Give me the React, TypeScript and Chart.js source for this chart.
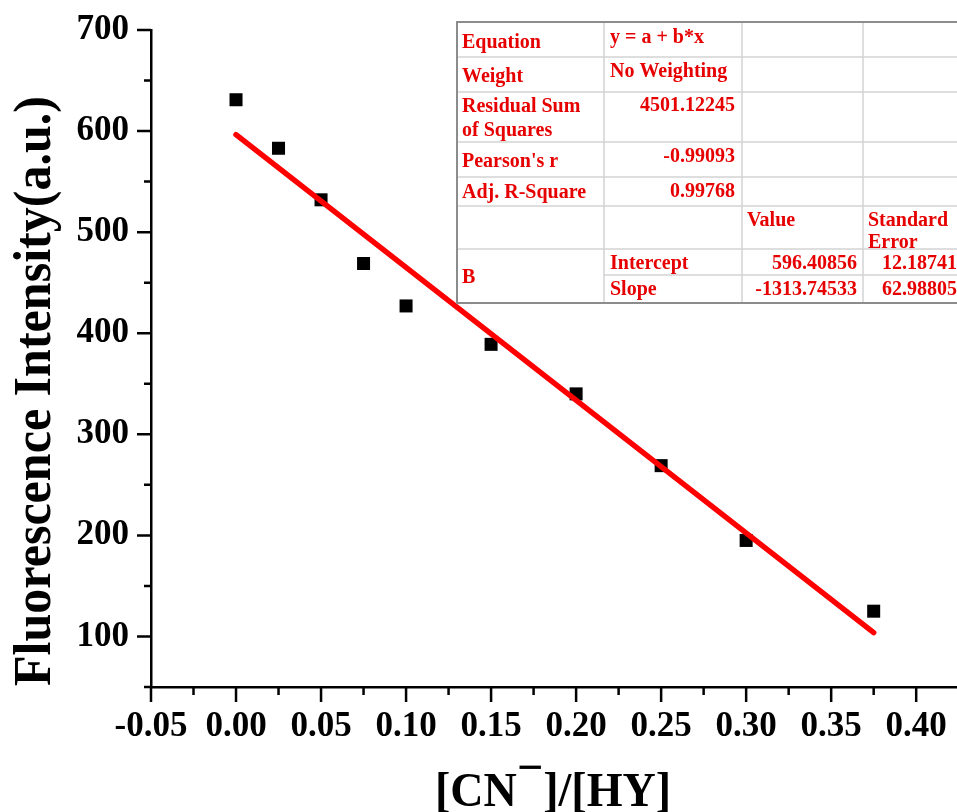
import React, { useEffect, useRef } from "react";
import { Chart, registerables } from "chart.js";
Chart.register(...registerables);

// ---- data ----
const ratio = [0, 0.025, 0.05, 0.075, 0.1, 0.15, 0.2, 0.25, 0.3, 0.375];
const intensity = [631, 583, 532, 469, 427, 389, 340, 269, 195, 125];
const fitX = [0, 0.375];
const fitY = [596.41, 103.75];

const xMajorTicks = [-0.05, 0, 0.05, 0.1, 0.15, 0.2, 0.25, 0.3, 0.35, 0.4];
const xMinorTicks = [-0.025, 0.025, 0.075, 0.125, 0.175, 0.225, 0.275, 0.325, 0.375];
const yMajorTicks = [100, 200, 300, 400, 500, 600, 700];
const yMinorTicks = [50, 150, 250, 350, 450, 550, 650];

const yTitle = "Fluorescence Intensity(a.u.)";
const xTitleParts = ["[CN", "\u2212", "]/[HY]"];

const tableLabels = ["Equation", "Weight", "Residual Sum|of Squares", "Pearson's r", "Adj. R-Square"];
const tableValues = ["y = a + b*x", "No Weighting", "4501.12245", "-0.99093", "0.99768"];
const paramHeaders = ["Value", "Standard|Error"];
const paramGroup = "B";
const paramNames = ["Intercept", "Slope"];
const paramValues = ["596.40856", "-1313.74533"];
const paramErrors = ["12.18741", "62.98805"];

const FONT = '"Liberation Serif", "Times New Roman", serif';
const RED = "#e60000";

const decorPlugin = {
  id: "decor",
  afterDraw(chart: any) {
    const ctx: CanvasRenderingContext2D = chart.ctx;
    const xs = chart.scales.x;
    const ys = chart.scales.y;
    const area = chart.chartArea;
    ctx.save();
    // tick marks
    ctx.strokeStyle = "#000";
    ctx.lineWidth = 2.5;
    ctx.beginPath();
    for (const v of yMajorTicks) {
      const p = ys.getPixelForValue(v);
      ctx.moveTo(area.left - 14, p);
      ctx.lineTo(area.left, p);
    }
    for (const v of yMinorTicks) {
      const p = ys.getPixelForValue(v);
      ctx.moveTo(area.left - 7, p);
      ctx.lineTo(area.left, p);
    }
    for (const v of xMajorTicks) {
      const p = xs.getPixelForValue(v);
      ctx.moveTo(p, area.bottom);
      ctx.lineTo(p, area.bottom + 15);
    }
    for (const v of xMinorTicks) {
      const p = xs.getPixelForValue(v);
      ctx.moveTo(p, area.bottom);
      ctx.lineTo(p, area.bottom + 8);
    }
    ctx.stroke();

    // y title
    ctx.fillStyle = "#000";
    ctx.font = `bold 53px ${FONT}`;
    ctx.textAlign = "center";
    ctx.textBaseline = "alphabetic";
    const w = ctx.measureText(yTitle).width;
    ctx.save();
    ctx.translate(50, 391);
    ctx.rotate(-Math.PI / 2);
    ctx.scale(590 / w, 1);
    ctx.fillText(yTitle, 0, 0);
    ctx.restore();

    // x title
    ctx.save();
    ctx.font = `bold 48px ${FONT}`;
    ctx.textAlign = "left";
    ctx.translate(435, 806);
    ctx.scale(0.96, 1);
    let x = 0;
    ctx.fillText(xTitleParts[0], x, 0);
    x += ctx.measureText(xTitleParts[0]).width;
    ctx.fillText(xTitleParts[1], x, -23);
    x += ctx.measureText(xTitleParts[1]).width;
    ctx.fillText(xTitleParts[2], x, 0);
    ctx.restore();

    // table
    const colX = [457, 604, 742, 863, 1000];
    const rowY = [22, 57, 92, 142, 177, 206, 249, 275, 303];
    ctx.fillStyle = "#fff";
    ctx.fillRect(colX[0], rowY[0], 957 - colX[0], rowY[8] - rowY[0]);
    ctx.strokeStyle = "#d4d4d4";
    ctx.lineWidth = 1.5;
    ctx.beginPath();
    for (let i = 1; i < 7; i++) {
      ctx.moveTo(colX[0], rowY[i]);
      ctx.lineTo(957, rowY[i]);
    }
    ctx.moveTo(colX[1], rowY[7]);
    ctx.lineTo(957, rowY[7]);
    for (let i = 1; i < 4; i++) {
      ctx.moveTo(colX[i], rowY[0]);
      ctx.lineTo(colX[i], rowY[8]);
    }
    ctx.stroke();
    ctx.strokeStyle = "#8c8c8c";
    ctx.lineWidth = 2;
    ctx.beginPath();
    ctx.moveTo(958, rowY[0]);
    ctx.lineTo(colX[0], rowY[0]);
    ctx.lineTo(colX[0], rowY[8]);
    ctx.lineTo(958, rowY[8]);
    ctx.stroke();

    ctx.fillStyle = RED;
    ctx.font = `bold 20px ${FONT}`;
    ctx.textBaseline = "alphabetic";
    const labelBase = [48, 82, 112, 167, 198];
    const valueBase = [43, 77, 111, 162, 197];
    tableLabels.forEach((t, i) => {
      ctx.textAlign = "left";
      t.split("|").forEach((line, j) => ctx.fillText(line, 462, labelBase[i] + j * 24));
      ctx.textAlign = i < 2 ? "left" : "right";
      ctx.fillText(tableValues[i], i < 2 ? 610 : 735, valueBase[i]);
    });
    ctx.textAlign = "left";
    ctx.fillText(paramHeaders[0], 747, 226);
    paramHeaders[1].split("|").forEach((line, j) => ctx.fillText(line, 868, 226 + j * 22));
    ctx.fillText(paramGroup, 462, 283);
    const pBase = [269, 295];
    paramNames.forEach((n, i) => {
      ctx.textAlign = "left";
      ctx.fillText(n, 610, pBase[i]);
      ctx.textAlign = "right";
      ctx.fillText(paramValues[i], 857, pBase[i]);
      ctx.fillText(paramErrors[i], 957, pBase[i]);
    });
    ctx.restore();
  },
};

export default function App() {
  const ref = useRef<HTMLCanvasElement>(null);
  useEffect(() => {
    const canvas = ref.current!;
    const tickFont = { family: FONT, size: 35, weight: "bold" as const };
    const chart = new Chart(canvas, {
      type: "scatter",
      data: {
        datasets: [
          {
            type: "line",
            data: fitX.map((x, i) => ({ x, y: fitY[i] })),
            borderColor: "#ff0000",
            borderWidth: 5.5,
            borderCapStyle: "round",
            pointRadius: 0,
            fill: false,
            tension: 0,
            order: 0,
          } as any,
          {
            type: "scatter",
            data: ratio.map((x, i) => ({ x, y: intensity[i] })),
            pointStyle: "rect",
            pointRadius: 9.2,
            pointBackgroundColor: "#000",
            pointBorderColor: "#000",
            pointBorderWidth: 0,
            order: 1,
          } as any,
        ],
      },
      options: {
        responsive: false,
        animation: false,
        devicePixelRatio: 1,
        layout: { autoPadding: false, padding: { top: 30, left: 0, right: 0, bottom: 0 } },
        plugins: { legend: { display: false }, tooltip: { enabled: false } },
        scales: {
          x: {
            type: "linear",
            position: "bottom",
            min: -0.05,
            max: 0.424,
            afterBuildTicks: (s: any) => {
              s.ticks = xMajorTicks.map((v) => ({ value: v }));
            },
            afterFit: (s: any) => {
              s.height = 125;
              s.paddingLeft = 0;
              s.paddingRight = 0;
            },
            grid: { display: false, drawTicks: true, tickLength: 19 },
            border: { display: true, color: "#000", width: 2.5 },
            ticks: {
              font: tickFont,
              color: "#000",
              padding: 0,
              autoSkip: false,
              maxRotation: 0,
              callback: (v: any) => Number(v).toFixed(2),
            },
          },
          y: {
            type: "linear",
            min: 50,
            max: 700,
            afterBuildTicks: (s: any) => {
              s.ticks = yMajorTicks.map((v) => ({ value: v }));
            },
            afterFit: (s: any) => {
              s.width = 151;
              s.paddingTop = 0;
              s.paddingBottom = 0;
            },
            grid: { display: false, drawTicks: true, tickLength: 22 },
            border: { display: true, color: "#000", width: 2.5 },
            ticks: {
              font: tickFont,
              color: "#000",
              padding: 0,
              autoSkip: false,
              callback: (v: any) => String(v),
            },
          },
        },
      },
      plugins: [decorPlugin],
    });
    return () => chart.destroy();
  }, []);
  return (
    <canvas
      ref={ref}
      width={957}
      height={812}
      style={{ position: "absolute", left: 0, top: 0, display: "block", background: "#fff" }}
    />
  );
}
